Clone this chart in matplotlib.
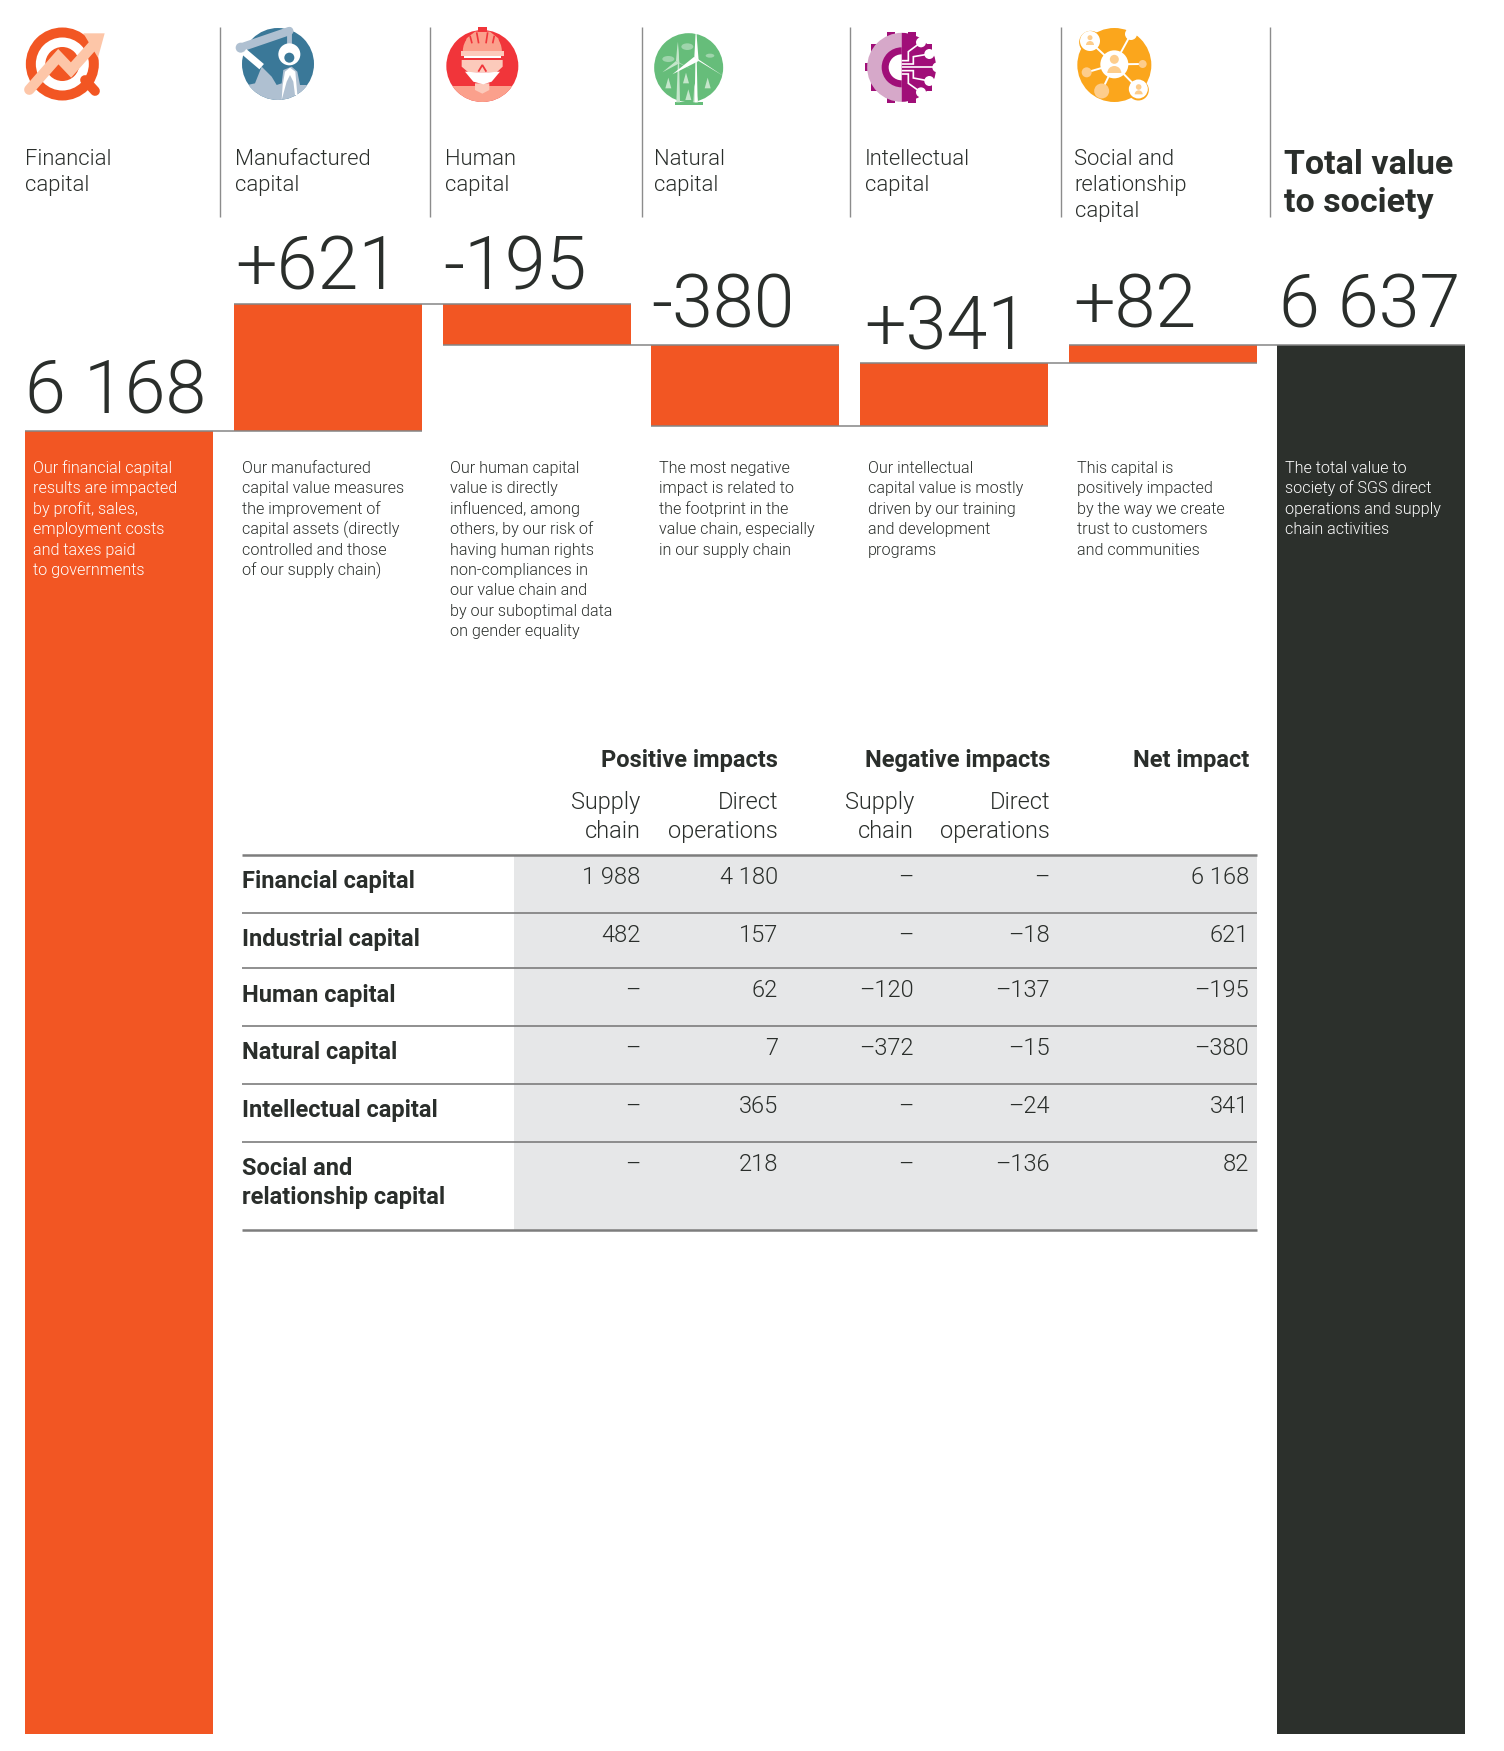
import matplotlib
matplotlib.use("Agg")
import matplotlib.pyplot as plt
import numpy as np
from matplotlib.patches import Circle, Ellipse, Polygon, Rectangle, Wedge, FancyBboxPatch

W, H = 1504, 1751
ORANGE = "#f25623"; DARK = "#2c302c"; TXT = "#2a2e2b"; GREY = "#858585"
FONT = "Roboto"

# ---------- data ----------
capitals = ["Financial\ncapital", "Manufactured\ncapital", "Human\ncapital", "Natural\ncapital",
            "Intellectual\ncapital", "Social and\nrelationship\ncapital"]
total_title = "Total value\nto society"
value_labels = ["6 168", "+621", "-195", "-380", "+341", "+82", "6 637"]
bar_bottom = [0, 6168, 6574, 6190, 6190, 6489, 0]
bar_top = [6168, 6768, 6768, 6574, 6489, 6574, 6574]
bar_colors = [ORANGE] * 6 + [DARK]

notes = [
    ["Our financial capital", "results are impacted", "by profit, sales,", "employment costs", "and taxes paid", "to governments"],
    ["Our manufactured", "capital value measures", "the improvement of", "capital assets (directly", "controlled and those", "of our supply chain)"],
    ["Our human capital", "value is directly", "influenced, among", "others, by our risk of", "having human rights", "non-compliances in", "our value chain and", "by our suboptimal data", "on gender equality"],
    ["The most negative", "impact is related to", "the footprint in the", "value chain, especially", "in our supply chain"],
    ["Our intellectual", "capital value is mostly", "driven by our training", "and development", "programs"],
    ["This capital is", "positively impacted", "by the way we create", "trust to customers", "and communities"],
    ["The total value to", "society of SGS direct", "operations and supply", "chain activities"],
]

rows = ["Financial capital", "Industrial capital", "Human capital", "Natural capital",
        "Intellectual capital", "Social and\nrelationship capital"]
pos_supply = ["1 988", "482", "–", "–", "–", "–"]
pos_direct = ["4 180", "157", "62", "7", "365", "218"]
neg_supply = ["–", "–", "–120", "–372", "–", "–"]
neg_direct = ["–", "–18", "–137", "–15", "–24", "–136"]
net_impact = ["6 168", "621", "–195", "–380", "341", "82"]

# ---------- layout ----------
fig = plt.figure(figsize=(W / 100, H / 100), dpi=100, facecolor="white")

# value axes: x = category index, y = value; 0 sits at pixel row 1734, 0.2113 px per unit
PX = 0.2113
bx = fig.add_axes([0, 0, 1, 1], zorder=1)
bx.set_xlim((0 - 119.2) / 208.7, (W - 119.2) / 208.7)
bx.set_ylim(-(H - 1734) / PX, 1734 / PX)
bx.axis("off")
xs = np.arange(7)
bx.bar(xs, np.array(bar_top) - np.array(bar_bottom), bottom=bar_bottom, width=0.9, color=bar_colors, linewidth=0)
# connector rules: each level runs over the two neighbouring columns
for i in range(6):
    lvl = bar_top[i] if i == 0 else (bar_bottom[i] if bar_bottom[i] in (bar_bottom[i + 1], bar_top[i + 1]) else bar_top[i])
    lvl = {0: 6168, 1: 6768, 2: 6574, 3: 6190, 4: 6489, 5: 6574}[i]
    bx.hlines(lvl, i - 0.45, i + 1.45, color=GREY, lw=1.1, zorder=3)

# overlay in pixel coordinates for texts, table and icons
ov = fig.add_axes([0, 0, 1, 1], zorder=2)
ov.set_xlim(0, W); ov.set_ylim(H, 0); ov.axis("off"); ov.patch.set_alpha(0)

def T(x, y, s, size, color=TXT, ha="left", weight=300, va="baseline", **kw):
    return ov.text(x, y, s, fontsize=size, color=color, ha=ha, va=va, family=FONT, fontweight=weight, **kw)

# header
for x in [220, 430, 642, 850, 1060.5, 1269.5]:
    ov.plot([x, x], [27, 217], color="#8c8c8c", lw=1.0, solid_capstyle="butt")
head_x = [25, 235, 445, 654, 864.5, 1074.5]
for x, c in zip(head_x, capitals):
    for j, line in enumerate(c.split("\n")):
        T(x, 165 + j * 26, line, 15.8, weight=300)
for j, line in enumerate(total_title.split("\n")):
    T(1284, 174 + j * 38, line, 24.5, weight=700)

# big numbers
num_x = [25, 235, 443, 651, 864, 1073, 1279]
num_y = [413, 290, 290, 328, 349, 328, 328]
for x, y, s in zip(num_x, num_y, value_labels):
    T(x, y, s, 53, weight=300)

# notes
note_x = [33, 242, 450, 659, 868, 1077, 1285]
for k, (x, lines) in enumerate(zip(note_x, notes)):
    col = "white" if k in (0, 6) else TXT
    for j, line in enumerate(lines):
        T(x, 473 + j * 20.4, line, 11.6, color=col)

# table
xl, xg, xr = 241.6, 514, 1256.5
rule_y = [855, 913, 968, 1026, 1084, 1142, 1230]
ov.add_patch(Rectangle((xg, rule_y[0]), xr - xg, rule_y[-1] - rule_y[0], fc="#e6e7e8", ec="none", zorder=0.5))
for i, y in enumerate(rule_y):
    ov.plot([xl, xr], [y, y], color="#7d7d7d", lw=1.8 if i in (0, 6) else 1.2, solid_capstyle="butt")
cols_r = [640.5, 778, 914, 1050, 1249]
T(778, 767, "Positive impacts", 17, ha="right", weight=700)
T(1050, 767, "Negative impacts", 17, ha="right", weight=700)
T(1249, 767, "Net impact", 17, ha="right", weight=700)
for x, a, b in [(640.5, "Supply", "chain"), (778, "Direct", "operations"), (914, "Supply", "chain"), (1050, "Direct", "operations")]:
    T(x, 809, a, 17, ha="right")
    T(x, 838, b, 17, ha="right")
label_y = [888, 946, 1002, 1059, 1117, 1175]
val_y = [884, 942, 997, 1055, 1113, 1171]
for r, ly, vy, *vals in zip(rows, label_y, val_y, pos_supply, pos_direct, neg_supply, neg_direct, net_impact):
    for j, line in enumerate(r.split("\n")):
        T(xl, ly + j * 29, line, 17, weight=700)
    for x, v in zip(cols_r, vals):
        T(x, vy, v, 17, ha="right")

# ---------- icons (decorative, in crop coordinates of 3x zoom) ----------
def Z(ox, oy):
    return lambda *p: (ox + p[0] / 3, oy + p[1] / 3)

def circ(c, r, color, z=2, clip=None):
    p = Circle(c, r, fc=color, ec="none", zorder=z); ov.add_patch(p)
    if clip is not None: p.set_clip_path(clip)
    return p

def poly(pts, color, z=2, clip=None):
    p = Polygon(pts, closed=True, fc=color, ec="none", zorder=z); ov.add_patch(p)
    if clip is not None: p.set_clip_path(clip)
    return p

def line(pts, color, lw, z=3, clip=None, cap="round"):
    a = np.array(pts)
    l, = ov.plot(a[:, 0], a[:, 1], color=color, lw=lw, zorder=z, solid_capstyle=cap, solid_joinstyle="miter")
    if clip is not None: l.set_clip_path(clip)
    return l

# financial
z = Z(10, 15); PEACH = "#fdc6a8"
c0 = z(157, 147)
circ(c0, 36.5, ORANGE); circ(c0, 26.5, "white", 2.1); circ(c0, 17, ORANGE, 2.2)
line([z(225, 195), z(255, 228)], ORANGE, 7, 2.3)
line([z(58, 224), z(145, 125), z(183, 165), z(250, 90)], PEACH, 7.5, 3, cap="round")
poly([z(220, 55), z(284, 55), z(264, 128)], PEACH, 3)

# manufactured
z = Z(10, 15); BLUE = "#3a7898"; LB = "#afc0d1"
c1 = z(804, 147)
m = circ(c1, 36, BLUE)
poly([z(690, 260), z(690, 215), z(735, 205), z(755, 155), z(785, 185), z(800, 210), z(815, 205), z(820, 165), z(845, 155), z(862, 170), z(870, 210), z(915, 210), z(915, 270)], LB, 2.1, clip=m)
line([z(692, 98), z(838, 48)], LB, 6, 3)
circ(z(692, 98), 5, LB, 3)
line([z(838, 42), z(838, 90)], LB, 3.5, 3)
line([z(702, 110), z(755, 155)], "white", 5, 3, cap="butt")
circ(z(838, 118), 11, "white", 3); circ(z(838, 128), 5, BLUE, 3.1)
poly([z(818, 210), z(825, 170), z(840, 158), z(856, 170), z(862, 240), z(855, 240), z(850, 200), z(840, 180), z(830, 200), z(815, 255)], "white", 3)

# human
z = Z(430, 15); RED = "#f1353a"; SAL = "#fba08c"; PK = "#fccabb"
c2 = z(157, 153)
h = circ(c2, 36, RED)
poly([(c2[0] - 40, z(0, 213)[1]), (c2[0] + 40, z(0, 213)[1]), (c2[0] + 40, c2[1] + 40), (c2[0] - 40, c2[1] + 40)], SAL, 2.1, clip=h)
ov.add_patch(Wedge(z(157, 108), 19.5, 180, 360, fc=SAL, ec="none", zorder=2.2, width=None)).set_transform(ov.transData)
poly([z(100, 108), z(110, 70), z(135, 50), z(180, 50), z(205, 70), z(214, 108)], SAL, 2.3)
poly([z(143, 37), z(172, 37), z(172, 50), z(143, 50)], RED, 2.4)
for a, b in [((140, 52), (146, 85)), ((173, 52), (168, 85)), ((120, 62), (126, 85)), ((193, 62), (188, 85))]:
    line([z(*a), z(*b)], RED, 1.2, 2.5, cap="butt")
poly([z(92, 107), z(222, 107), z(222, 122), z(92, 122)], PK, 2.6)
poly([z(103, 122), z(212, 122), z(212, 130), z(103, 130)], "white", 2.6)
poly([z(95, 135), z(218, 135), z(218, 155), z(200, 172), z(115, 172), z(95, 155)], PK, 2.6)
poly([z(105, 170), z(140, 172), z(175, 172), z(210, 170), z(185, 200), z(160, 208), z(130, 200)], "white", 2.7)
poly([z(135, 205), z(178, 205), z(178, 225), z(157, 236), z(135, 225)], PK, 2.6)
line([z(145, 170), z(157, 150), z(169, 170)], RED, 1.3, 2.8, cap="butt")

# natural
z = Z(430, 15); GR = "#66bd7a"; PG = "#c5e6cb"
c3 = z(776, 158)
circ(c3, 34.5, GR)
poly([z(735, 262), z(820, 262), z(820, 270), z(735, 270)], GR, 2)
for cx, cy, w, h_ in [(772, 95, 36, 20), (715, 132, 36, 18), (840, 122, 26, 12)]:
    ov.add_patch(Ellipse(z(cx, cy), w / 3, h_ / 3, fc="#9fd5ac", ec="none", zorder=2.1))
for tx, ty in [(715, 210), (768, 195), (833, 210), (775, 245)]:
    poly([z(tx, ty - 22), z(tx + 9, ty + 10), z(tx - 9, ty + 10)], PG, 2.2)
poly([z(739, 262), z(746, 82), z(750, 262)], PG, 2.3)
poly([z(790, 262), z(793, 205), z(805, 262)], PG, 2.3)
for tip in [(697, 172), (790, 165), (743, 80)]:
    poly([z(738, 138), z(*tip), z(748, 145)], PG, 2.4)
poly([z(794, 262), z(798, 38), z(803, 262)], "white", 2.5)
for tip in [(880, 183), (727, 178), (798, 38)]:
    poly([z(793, 125), z(*tip), z(806, 138)], "white", 2.6)

# intellectual
z = Z(850, 15); MG = "#a00e78"; LM = "#d6a8c9"
cc = z(155, 157)
for ang in np.arange(0, 360, 36) + 0:
    if abs(((ang + 180) % 360) - 180) < 100 or True:
        ov.add_patch(Rectangle((cc[0] + 33 * np.cos(np.radians(ang)) - 4, cc[1] + 33 * np.sin(np.radians(ang)) - 4), 8, 8,
                               angle=0, fc=(MG), ec="none", zorder=1.9, rotation_point="center"))
ov.add_patch(Wedge(cc, 34.5, 90, 270, fc=LM, ec="none", zorder=2))
ov.add_patch(Wedge(cc, 34.5, -90, 90, fc=MG, ec="none", zorder=2))
ov.add_patch(Wedge(cc, 20, 90, 270, fc=MG, ec="none", zorder=2.1))
ov.add_patch(Wedge(cc, 13, 90, 270, fc="white", ec="none", zorder=2.2))
nodes = [(213, 82), (238, 117), (262, 157), (238, 198), (213, 232)]
starts = [(155, 137), (155, 147), (155, 157), (155, 167), (155, 177)]
mids = [(175, 110), (190, 125), (200, 157), (190, 189), (175, 205)]
for n, s, md in zip(nodes, starts, mids):
    line([z(*s), z(md[0], s[1]), z(md[0], md[1]), z(*n)], "white", 1.2, 2.5, cap="butt")
    circ(z(*n), 5, "white", 2.6)

# social
z = Z(850, 15); AM = "#fba61c"; PO = "#fdcd8c"
c5 = z(793, 150)
circ(c5, 37, AM)
circ(z(722, 82), 11.5, AM, 2); circ(z(865, 225), 10.5, AM, 2)
for n in [(722, 82), (843, 57), (710, 172), (878, 147), (755, 228), (865, 222)]:
    line([z(793, 148), z(*n)], "white", 1.4, 2.1, cap="butt")
circ(z(793, 148), 14, "white", 2.2)
circ(z(793, 133), 4.5, PO, 2.3); ov.add_patch(Wedge(z(793, 174), 7, 180, 360, fc=PO, ec="none", zorder=2.3))
circ(z(720, 78), 10, "white", 2.2); circ(z(720, 68), 2.5, PO, 2.3); ov.add_patch(Wedge(z(720, 90), 4, 180, 360, fc=PO, ec="none", zorder=2.3))
circ(z(843, 57), 6, "white", 2.2)
circ(z(865, 222), 9.5, "white", 2.2); circ(z(866, 216), 2.8, PO, 2.3); ov.add_patch(Wedge(z(866, 238), 4, 180, 360, fc=PO, ec="none", zorder=2.3))
circ(z(710, 172), 5, PO, 2.3); circ(z(878, 147), 4, PO, 2.3); circ(z(755, 228), 7.5, PO, 2.3)

fig.savefig("out.png", dpi=100, facecolor="white")
